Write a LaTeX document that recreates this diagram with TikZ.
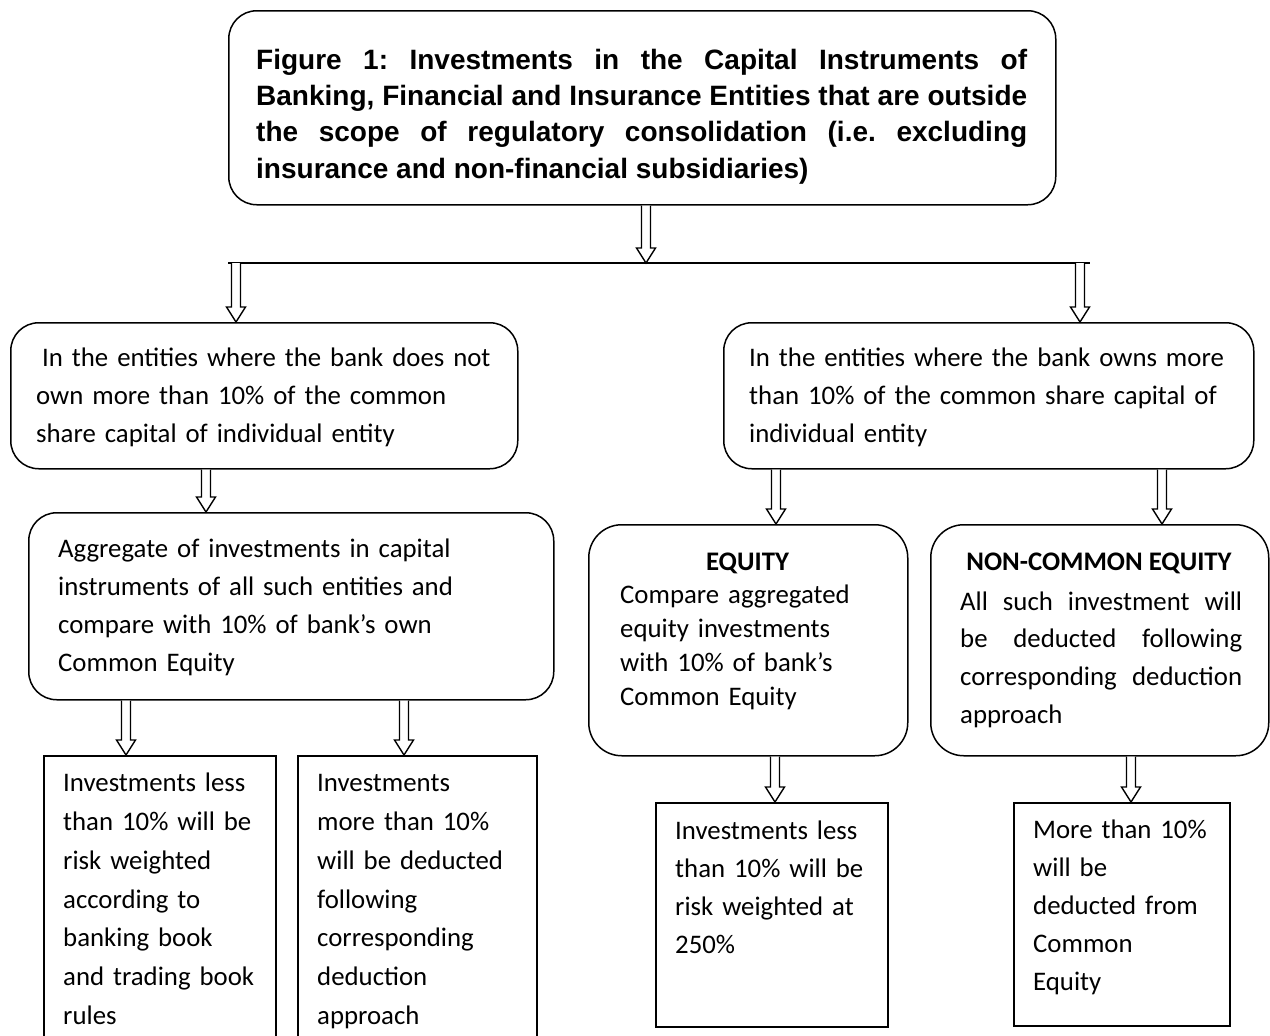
\documentclass[tikz,border=0pt]{standalone}
\usepackage{fontspec}
\setmainfont{Carlito}
\newfontfamily\arialfont{Liberation Sans}
\usetikzlibrary{calc}
\frenchspacing
\newcommand{\hollowarrow}[2]{%
  \draw[harrow] let \p1=(#1), \p2=(#2) in
    (\x1-4.5pt,\y1) -- (\x1-4.5pt,\y2+15pt) -- (\x1-9.5pt,\y2+15pt) -- (\x1,\y2)
    -- (\x1+9.5pt,\y2+15pt) -- (\x1+4.5pt,\y2+15pt) -- (\x1+4.5pt,\y1);}
\tikzset{
  lw/.style={line width=1.5pt},
  harrow/.style={line width=1.4pt, fill=white, line join=miter},
  rbox/.style={draw, line width=1.5pt, rounded corners=28pt, anchor=north west, inner sep=0pt},
  rboxb/.style={rbox, rounded corners=33pt},
  sbox/.style={draw, line width=1.5pt, anchor=north west, inner sep=0pt},
  body/.style={anchor=base west, inner sep=0pt, text width=700pt, align=left, font=\fontsize{26.8}{38}\selectfont},
  bodyb/.style={body, font=\fontsize{26.8}{38.8}\selectfont},
  bodyc/.style={body, font=\fontsize{26.8}{33.9}\selectfont},
  head/.style={anchor=base, inner sep=0pt, font=\bfseries\fontsize{26.8}{34}\selectfont},
}
\begin{document}
\begin{tikzpicture}[x=1pt, y=-1pt]
\useasboundingbox (0,0) rectangle (1270,1036);
\fill[white] (0,0) rectangle (1270,1036);

% boxes
\node[rbox, minimum width=827pt, minimum height=194pt] (T) at (228,10) {};
\node[rbox, minimum width=507pt, minimum height=146pt] (L1) at (10,322) {};
\node[rbox, minimum width=530pt, minimum height=146pt] (R1) at (723,322) {};
\node[rbox, minimum width=525pt, minimum height=187pt] (L2) at (28,512) {};
\node[rboxb, minimum width=319pt, minimum height=231pt] (R2a) at (588,524) {};
\node[rboxb, minimum width=338pt, minimum height=231pt] (R2b) at (930,524) {};
\node[sbox, minimum width=232pt, minimum height=295pt] (L3a) at (43,755) {};
\node[sbox, minimum width=239pt, minimum height=295pt] (L3b) at (297,755) {};
\node[sbox, minimum width=232pt, minimum height=224pt] (R3a) at (655,802) {};
\node[sbox, minimum width=216pt, minimum height=223pt] (R3b) at (1013,802) {};

% texts
\node[anchor=base west, inner sep=0pt, text width=771pt, align=justify,
      font=\arialfont\bfseries\fontsize{28}{36.3}\selectfont] (Tt) at (256,69.3)
  {Figure 1: Investments in the Capital Instruments of\linebreak
   Banking, Financial and Insurance Entities that are outside\linebreak
   the scope of regulatory consolidation (i.e. excluding\linebreak
   insurance and non-financial subsidiaries)};
\node[body] (L1t) at (36,366) {\hspace*{6pt}In the entities where the bank does not\\own more than 10\% of the common\\share capital of individual entity};
\node[body] (R1t) at (749,366) {In the entities where the bank owns more\\than 10\% of the common share capital of\\individual entity};
\node[body] (L2t) at (58,557) {Aggregate of investments in capital\\instruments of all such entities and\\compare with 10\% of bank’s own\\Common Equity};
\node[head] (R2ah) at (747.5,570.7) {EQUITY};
\node[bodyc] (R2at) at (620,603.3) {Compare aggregated\\equity investments\\with 10\% of bank’s\\Common Equity};
\node[head] (R2bh) at (1099,570.7) {NON-COMMON EQUITY};
\node[anchor=base west, inner sep=0pt, text width=282pt, align=justify,
      font=\fontsize{26.8}{37.8}\selectfont] (R2bt) at (960,610)
  {All such investment will\linebreak be deducted following\linebreak corresponding deduction\linebreak approach};
\node[bodyb] (L3at) at (63,791.7) {Investments less\\than 10\% will be\\risk weighted\\according to\\banking book\\and trading book\\rules};
\node[bodyb] (L3bt) at (317,791.7) {Investments\\more than 10\%\\will be deducted\\following\\corresponding\\deduction\\approach};
\node[body] (R3at) at (675,839) {Investments less\\than 10\% will be\\risk weighted at\\250\%};
\node[body] (R3bt) at (1033,838.3) {More than 10\%\\will be\\deducted from\\Common\\Equity};

% connector line
\coordinate (hl) at (228,263);
\coordinate (hr) at (1090,263);
\coordinate (hm) at (646,263);
\draw[lw] (hl) -- (hr);

% arrow x positions
\coordinate (xa) at (646,0);
\coordinate (xb) at (236,0);
\coordinate (xc) at (1080,0);
\coordinate (xd) at (206,0);
\coordinate (xe) at (126,0);
\coordinate (xf) at (404,0);
\coordinate (xg) at (776,0);
\coordinate (xh) at (1162,0);
\coordinate (xi) at (775,0);
\coordinate (xj) at (1131,0);

\hollowarrow{xa |- T.south}{hm}
\hollowarrow{xb |- hl}{xb |- L1.north}
\hollowarrow{xc |- hr}{xc |- R1.north}
\hollowarrow{xd |- L1.south}{xd |- L2.north}
\hollowarrow{xe |- L2.south}{xe |- L3a.north}
\hollowarrow{xf |- L2.south}{xf |- L3b.north}
\hollowarrow{xg |- R1.south}{xg |- R2a.north}
\hollowarrow{xh |- R1.south}{xh |- R2b.north}
\hollowarrow{xi |- R2a.south}{xi |- R3a.north}
\hollowarrow{xj |- R2b.south}{xj |- R3b.north}
\end{tikzpicture}
\end{document}
